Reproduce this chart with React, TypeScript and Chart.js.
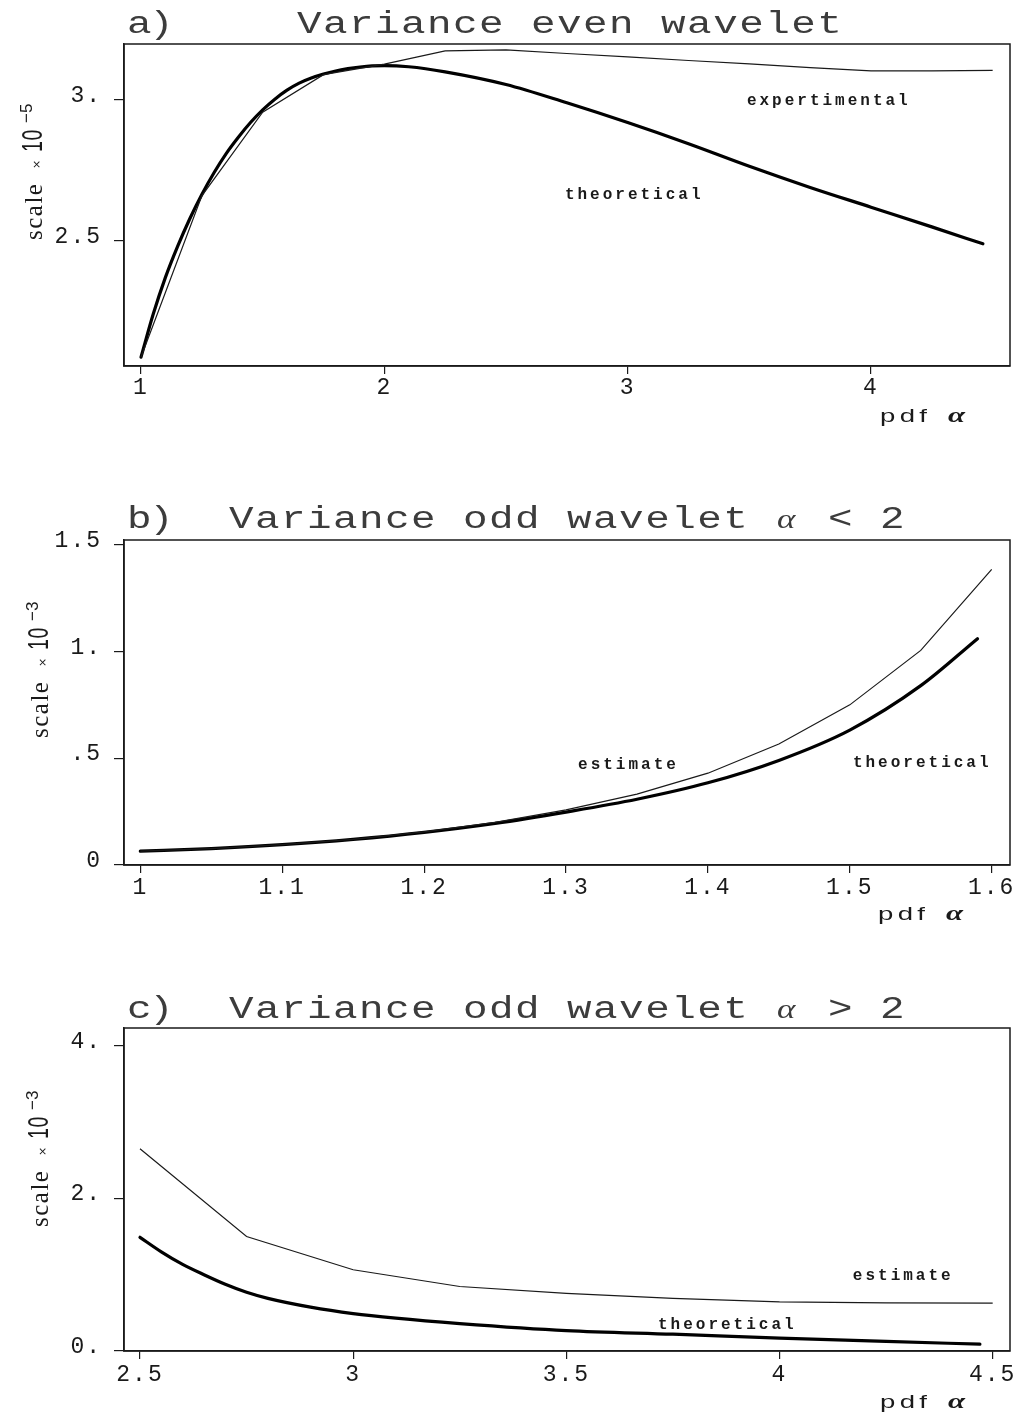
import React, { useEffect, useRef } from 'react';
import { Chart, registerables } from 'chart.js';

Chart.register(...registerables);

// ---------- Panel a: Variance even wavelet ----------
const aTheoAlpha = [1.0, 1.05, 1.1, 1.15, 1.2, 1.25, 1.3, 1.35, 1.4, 1.45, 1.5, 1.55, 1.6, 1.65, 1.7, 1.75, 1.8, 1.85, 1.9, 1.95, 2.0, 2.1, 2.25, 2.5, 2.75, 3.0, 3.25, 3.5, 3.75, 4.0, 4.25, 4.46];
const aTheoScale = [2.088, 2.24, 2.37, 2.48, 2.578, 2.665, 2.742, 2.81, 2.868, 2.92, 2.965, 3.003, 3.035, 3.06, 3.078, 3.092, 3.103, 3.111, 3.117, 3.121, 3.122, 3.118, 3.1, 3.055, 2.99, 2.92, 2.845, 2.765, 2.69, 2.62, 2.55, 2.49];
const aExpAlpha = [1.0, 1.25, 1.5, 1.75, 2.0, 2.25, 2.5, 2.75, 3.0, 3.25, 3.5, 3.75, 4.0, 4.25, 4.5];
const aExpScale = [2.088, 2.66, 2.957, 3.09, 3.127, 3.174, 3.178, 3.165, 3.153, 3.14, 3.128, 3.115, 3.103, 3.103, 3.105];
const aXTicks = [1, 2, 3, 4];
const aXTickLabels = ['1', '2', '3', '4'];
const aYTicks = [2.5, 3];
const aYTickLabels = ['2.5', '3.'];

// ---------- Panel b: Variance odd wavelet alpha < 2 ----------
const bTheoAlpha = [1.0, 1.05, 1.1, 1.15, 1.2, 1.25, 1.3, 1.35, 1.4, 1.45, 1.5, 1.55, 1.59];
const bTheoScale = [0.065, 0.077, 0.095, 0.12, 0.153, 0.195, 0.248, 0.308, 0.385, 0.49, 0.632, 0.84, 1.06];
const bEstAlpha = [1.0, 1.05, 1.1, 1.15, 1.2, 1.25, 1.3, 1.35, 1.4, 1.45, 1.5, 1.55, 1.6];
const bEstScale = [0.065, 0.077, 0.095, 0.12, 0.155, 0.2, 0.258, 0.332, 0.43, 0.567, 0.75, 1.005, 1.385];
const bXTicks = [1, 1.1, 1.2, 1.3, 1.4, 1.5, 1.6];
const bXTickLabels = ['1', '1.1', '1.2', '1.3', '1.4', '1.5', '1.6'];
const bYTicks = [0, 0.5, 1, 1.5];
const bYTickLabels = ['0', '.5', '1.', '1.5'];

// ---------- Panel c: Variance odd wavelet alpha > 2 ----------
const cTheoAlpha = [2.5, 2.55, 2.6, 2.65, 2.7, 2.75, 2.8, 2.9, 3.0, 3.1, 3.25, 3.5, 3.75, 4.0, 4.25, 4.47];
const cTheoScale = [1.49, 1.3, 1.135, 1.0, 0.875, 0.77, 0.69, 0.575, 0.49, 0.43, 0.36, 0.268, 0.22, 0.17, 0.125, 0.09];
const cEstAlpha = [2.5, 2.75, 3.0, 3.25, 3.5, 3.75, 4.0, 4.25, 4.5];
const cEstScale = [2.65, 1.5, 1.065, 0.845, 0.755, 0.69, 0.645, 0.632, 0.628];
const cXTicks = [2.5, 3, 3.5, 4, 4.5];
const cXTickLabels = ['2.5', '3', '3.5', '4', '4.5'];
const cYTicks = [0, 2, 4];
const cYTickLabels = ['0.', '2.', '4.'];

const TICK_FONT = '"Liberation Mono", "DejaVu Sans Mono", monospace';
const INK = '#1a1a1a';
const TITLE_INK = '#3c3c3c';

type Txt = { text: string; x: number; y: number; font: string; ls?: number; sx?: number; color?: string };

type PanelCfg = {
  top: number;
  h: number;
  padTop: number;
  xAxisH: number;
  xPad: number;
  xMin: number; xMax: number; yMin: number; yMax: number;
  xTicks: number[]; xTickLabels: string[];
  yTicks: number[]; yTickLabels: string[];
  theoX: number[]; theoY: number[];
  thinX: number[]; thinY: number[];
  titles: Txt[];
  yLabel: { baseX: number; startY: number; exp: string };
  pdf: { x: number; y: number };
  notes: { text: string; x: number; y: number }[];
};

const TITLE_FONT = '31px "Liberation Mono", monospace';
const TITLE_SX = 1.32;
const TITLE_LS = 1.1;
const ALPHA_TITLE_FONT = 'italic 27px "Liberation Serif", serif';
const NOTE_FONT = 'bold 16px "Liberation Mono", monospace';

const panels: PanelCfg[] = [
  {
    top: 0, h: 450, padTop: 44, xAxisH: 84, xPad: 0,
    xMin: 0.9301, xMax: 4.5713, yMin: 2.0567, yMax: 3.1986,
    xTicks: aXTicks, xTickLabels: aXTickLabels, yTicks: aYTicks, yTickLabels: aYTickLabels,
    theoX: aTheoAlpha, theoY: aTheoScale, thinX: aExpAlpha, thinY: aExpScale,
    titles: [
      { text: 'a)', x: 127, y: 33, font: TITLE_FONT, ls: -2, sx: TITLE_SX, color: TITLE_INK },
      { text: 'Variance even wavelet', x: 297, y: 33, font: TITLE_FONT, ls: TITLE_LS, sx: TITLE_SX, color: TITLE_INK },
    ],
    yLabel: { baseX: 42, startY: 240, exp: '−5' },
    pdf: { x: 880, y: 422 },
    notes: [
      { text: 'expertimental', x: 3.49, y: 2.982 },
      { text: 'theoretical', x: 2.742, y: 2.649 },
    ],
  },
  {
    top: 470, h: 470, padTop: 70, xAxisH: 75, xPad: 1,
    xMin: 0.9885, xMax: 1.6129, yMin: 0, yMax: 1.5222,
    xTicks: bXTicks, xTickLabels: bXTickLabels, yTicks: bYTicks, yTickLabels: bYTickLabels,
    theoX: bTheoAlpha, theoY: bTheoScale, thinX: bEstAlpha, thinY: bEstScale,
    titles: [
      { text: 'b)', x: 127, y: 58, font: TITLE_FONT, ls: -2, sx: TITLE_SX, color: TITLE_INK },
      { text: 'Variance odd wavelet', x: 229, y: 58, font: TITLE_FONT, ls: TITLE_LS, sx: TITLE_SX, color: TITLE_INK },
      { text: 'α', x: 777, y: 58, font: ALPHA_TITLE_FONT, sx: 1.3, color: TITLE_INK },
      { text: '< 2', x: 828, y: 58, font: TITLE_FONT, ls: TITLE_LS, sx: TITLE_SX, color: TITLE_INK },
    ],
    yLabel: { baseX: 48, startY: 268, exp: '−3' },
    pdf: { x: 878, y: 450 },
    notes: [
      { text: 'estimate', x: 1.3085, y: 0.45 },
      { text: 'theoretical', x: 1.5022, y: 0.459 },
    ],
  },
  {
    top: 960, h: 452, padTop: 68, xAxisH: 61, xPad: 2,
    xMin: 2.4625, xMax: 4.5406, yMin: 0, yMax: 4.233,
    xTicks: cXTicks, xTickLabels: cXTickLabels, yTicks: cYTicks, yTickLabels: cYTickLabels,
    theoX: cTheoAlpha, theoY: cTheoScale, thinX: cEstAlpha, thinY: cEstScale,
    titles: [
      { text: 'c)', x: 127, y: 58, font: TITLE_FONT, ls: -2, sx: TITLE_SX, color: TITLE_INK },
      { text: 'Variance odd wavelet', x: 229, y: 58, font: TITLE_FONT, ls: TITLE_LS, sx: TITLE_SX, color: TITLE_INK },
      { text: 'α', x: 777, y: 58, font: ALPHA_TITLE_FONT, sx: 1.3, color: TITLE_INK },
      { text: '> 2', x: 828, y: 58, font: TITLE_FONT, ls: TITLE_LS, sx: TITLE_SX, color: TITLE_INK },
    ],
    yLabel: { baseX: 48, startY: 267, exp: '−3' },
    pdf: { x: 880, y: 448 },
    notes: [
      { text: 'estimate', x: 4.172, y: 0.93 },
      { text: 'theoretical', x: 3.715, y: 0.288 },
    ],
  },
];

function drawText(ctx: CanvasRenderingContext2D, t: Txt) {
  ctx.save();
  ctx.font = t.font;
  (ctx as any).letterSpacing = (t.ls ?? 0) + 'px';
  ctx.textAlign = 'left';
  ctx.textBaseline = 'alphabetic';
  ctx.fillStyle = t.color ?? INK;
  ctx.translate(t.x, t.y);
  ctx.scale(t.sx ?? 1, 1);
  ctx.fillText(t.text, 0, 0);
  ctx.restore();
}

function makeDecor(cfg: PanelCfg) {
  return {
    id: 'decor',
    beforeDraw(chart: any) {
      chart.ctx.letterSpacing = '2px';
    },
    afterDraw(chart: any) {
      const ctx: CanvasRenderingContext2D = chart.ctx;
      (ctx as any).letterSpacing = '0px';
      ctx.save();
      const a = chart.chartArea;
      ctx.strokeStyle = INK;
      ctx.lineWidth = 1.5;
      ctx.strokeRect(a.left, a.top, a.right - a.left, a.bottom - a.top);

      cfg.titles.forEach((t) => drawText(ctx, t));

      // rotated y-axis label: scale x 10^-n
      ctx.save();
      ctx.translate(cfg.yLabel.baseX, cfg.yLabel.startY);
      ctx.rotate(-Math.PI / 2);
      drawText(ctx, { text: 'scale', x: 0, y: 0, font: '25px "Liberation Serif", serif', ls: 1.5 });
      drawText(ctx, { text: '×', x: 71, y: -2, font: '11px "DejaVu Sans", sans-serif' });
      drawText(ctx, { text: '10', x: 88, y: 0, font: '30px "Liberation Sans", sans-serif', sx: 0.65, ls: 1 });
      drawText(ctx, { text: cfg.yLabel.exp, x: 117, y: -10, font: '17px "Liberation Sans", sans-serif' });
      ctx.restore();

      // x-axis label: pdf alpha
      drawText(ctx, { text: 'pdf', x: cfg.pdf.x, y: cfg.pdf.y, font: '19px "Liberation Sans", sans-serif', ls: 3, sx: 1.45 });
      drawText(ctx, { text: 'α', x: cfg.pdf.x + 68, y: cfg.pdf.y, font: 'bold italic 22px "Liberation Serif", serif', sx: 1.4 });

      // curve annotations, anchored in data coordinates
      const xs = chart.scales.x;
      const ys = chart.scales.y;
      cfg.notes.forEach((n) => {
        drawText(ctx, { text: n.text, x: xs.getPixelForValue(n.x), y: ys.getPixelForValue(n.y), font: NOTE_FONT, ls: 3 });
      });
      ctx.restore();
    },
  };
}

function buildConfig(cfg: PanelCfg): any {
  const pts = (xs: number[], ys: number[]) => xs.map((x, i) => ({ x, y: ys[i] }));
  return {
    type: 'line',
    data: {
      datasets: [
        {
          data: pts(cfg.thinX, cfg.thinY),
          borderColor: INK,
          borderWidth: 1.2,
          pointRadius: 0,
          tension: 0,
          fill: false,
        },
        {
          data: pts(cfg.theoX, cfg.theoY),
          borderColor: '#000',
          borderWidth: 3.2,
          pointRadius: 0,
          cubicInterpolationMode: 'monotone',
          borderCapStyle: 'round',
          borderJoinStyle: 'round',
          fill: false,
        },
      ],
    },
    options: {
      responsive: false,
      animation: false,
      devicePixelRatio: 1,
      events: [],
      layout: { padding: { top: cfg.padTop, right: 11, left: 0, bottom: 0 } },
      plugins: { legend: { display: false }, tooltip: { enabled: false }, title: { display: false } },
      scales: {
        x: {
          type: 'linear',
          min: cfg.xMin,
          max: cfg.xMax,
          afterBuildTicks: (s: any) => { s.ticks = cfg.xTicks.map((v) => ({ value: v })); },
          afterFit: (s: any) => { s.height = cfg.xAxisH; s.paddingLeft = 0; s.paddingRight = 0; },
          ticks: {
            autoSkip: false,
            maxRotation: 0,
            padding: cfg.xPad,
            color: INK,
            font: { family: TICK_FONT, size: 23 },
            callback: (_v: any, i: number) => cfg.xTickLabels[i],
          },
          grid: { display: true, drawOnChartArea: false, drawTicks: true, tickLength: 8, color: INK, lineWidth: 1.2 },
          border: { display: true, color: INK, width: 1.5 },
        },
        y: {
          type: 'linear',
          min: cfg.yMin,
          max: cfg.yMax,
          afterBuildTicks: (s: any) => { s.ticks = cfg.yTicks.map((v) => ({ value: v })); },
          afterFit: (s: any) => { s.width = 124; s.paddingTop = 0; s.paddingBottom = 0; },
          ticks: {
            autoSkip: false,
            padding: 12,
            labelOffset: -4,
            color: INK,
            font: { family: TICK_FONT, size: 23 },
            callback: (_v: any, i: number) => cfg.yTickLabels[i],
          },
          grid: { display: true, drawOnChartArea: false, drawTicks: true, tickLength: 10, color: INK, lineWidth: 1.2 },
          border: { display: true, color: INK, width: 1.5 },
        },
      },
    },
    plugins: [makeDecor(cfg)],
  };
}

function Panel({ cfg }: { cfg: PanelCfg }) {
  const ref = useRef<HTMLCanvasElement>(null);
  useEffect(() => {
    const chart = new Chart(ref.current as HTMLCanvasElement, buildConfig(cfg));
    return () => chart.destroy();
  }, [cfg]);
  return (
    <canvas
      ref={ref}
      width={1021}
      height={cfg.h}
      style={{ position: 'absolute', left: 0, top: cfg.top, width: 1021, height: cfg.h, display: 'block' }}
    />
  );
}

export default function App() {
  return (
    <div style={{ position: 'absolute', left: 0, top: 0, width: 1021, height: 1412, background: '#fff', overflow: 'hidden' }}>
      {panels.map((p, i) => (
        <Panel key={i} cfg={p} />
      ))}
    </div>
  );
}
